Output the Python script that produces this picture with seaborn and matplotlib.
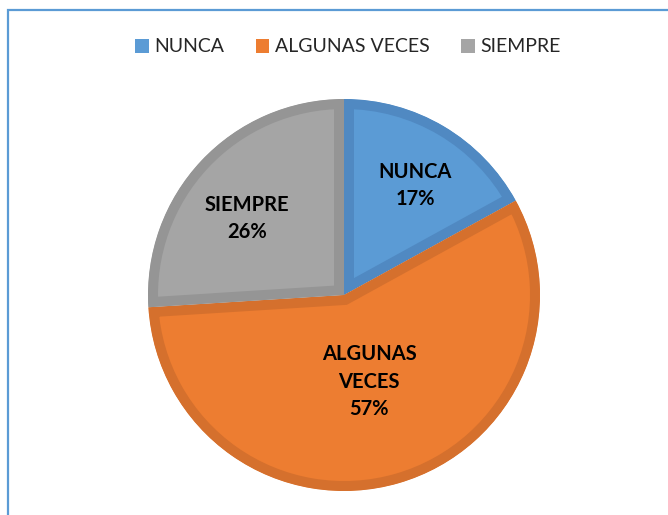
import matplotlib
matplotlib.use("Agg")
import matplotlib.pyplot as plt
import seaborn as sns
from matplotlib.patches import Patch, Rectangle
import numpy as np

# Datos del gráfico
categorias = ["NUNCA", "ALGUNAS VECES", "SIEMPRE"]
porcentajes = [17, 57, 26]
etiquetas = ["NUNCA\n17%", "ALGUNAS\nVECES\n57%", "SIEMPRE\n26%"]

colores = ["#5B9BD5", "#ED7D31", "#A5A5A5"]
bordes = ["#5089C2", "#D5702D", "#959595"]
# posición de las etiquetas: distancia al centro y desvío de ángulo (grados)
dist_etiqueta = [0.665, 0.46, 0.63]
desvio_angulo = [-2.5, 0, 5]

sns.set_theme(style="white")
plt.rcParams["font.family"] = ["Lato", "DejaVu Sans"]

W, H = 668, 515
fig = plt.figure(figsize=(W / 100, H / 100), dpi=100)

# marco azul (cortado a la derecha y abajo, como en la captura)
fig.patches.append(Rectangle((8 / W, -0.05), 1.2, (H - 10) / H + 0.05,
                             transform=fig.transFigure, fill=False,
                             edgecolor="#5B9BD5", linewidth=1.6))

# eje del pastel: centro (344, 295), radio 196 px
cx, cy, r = 344, 295, 196
ax = fig.add_axes([(cx - r) / W, (H - cy - r) / H, 2 * r / W, 2 * r / H])

wedges, _ = ax.pie(porcentajes, colors=colores, startangle=90,
                   counterclock=False, radius=1, center=(0, 0))
ax.set_xlim(-1, 1)
ax.set_ylim(-1, 1)
ax.axis("off")

for w, b in zip(wedges, bordes):
    w.set_edgecolor(b)
    w.set_linewidth(14.4)
    # borde solo hacia dentro: recortar con la propia cuña
    w.set_clip_path(w.get_path(), ax.transData)
    w.set_clip_on(True)

for w, txt, d, da in zip(wedges, etiquetas, dist_etiqueta, desvio_angulo):
    ang = np.deg2rad((w.theta1 + w.theta2) / 2 + da)
    ax.text(d * np.cos(ang), d * np.sin(ang), txt, ha="center", va="center",
            fontsize=14.5, fontweight="bold", color="black", linespacing=1.45)

handles = [Patch(facecolor=c, edgecolor="none") for c in colores]
fig.legend(handles, categorias, loc="center", bbox_to_anchor=(348 / W, 1 - 47 / H),
           ncol=3, frameon=False, fontsize=14, handlelength=0.7, handleheight=0.7,
           handletextpad=0.3, columnspacing=1.6)

fig.savefig("out.png", dpi=100)
